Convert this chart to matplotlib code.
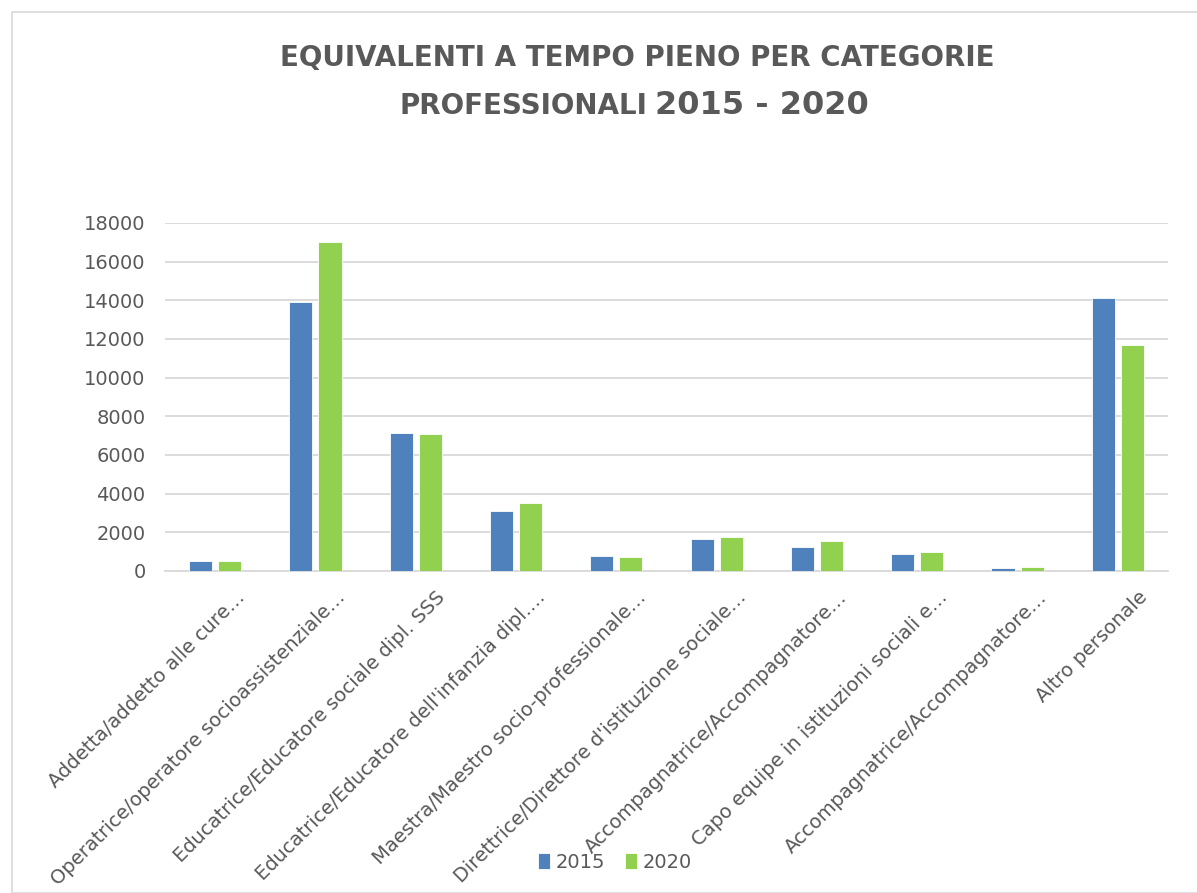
import matplotlib
matplotlib.use("Agg")
import matplotlib.pyplot as plt
import matplotlib.transforms as mtransforms
import numpy as np
from matplotlib.patches import Rectangle

categories = [
    "Addetta/addetto alle cure…",
    "Operatrice/operatore socioassistenziale…",
    "Educatrice/Educatore sociale dipl. SSS",
    "Educatrice/Educatore dell'infanzia dipl.…",
    "Maestra/Maestro socio-professionale…",
    "Direttrice/Direttore d'istituzione sociale…",
    "Accompagnatrice/Accompagnatore…",
    "Capo equipe in istituzioni sociali e…",
    "Accompagnatrice/Accompagnatore…",
    "Altro personale",
]
series_names = ["2015", "2020"]
values_2015 = [530, 13900, 7120, 3100, 780, 1640, 1230, 870, 170, 14100]
values_2020 = [520, 17000, 7090, 3510, 710, 1740, 1550, 980, 190, 11700]
yticks = [0, 2000, 4000, 6000, 8000, 10000, 12000, 14000, 16000, 18000]

c15 = "#4f81bd"
c20 = "#92d050"
txt = "#595959"

fig = plt.figure(figsize=(11.97, 8.93), dpi=100)
fig.patches.append(Rectangle((12/1197, 0), 1 - 12/1197 + 0.01, 1 - 12/893, transform=fig.transFigure,
                             fill=False, edgecolor="#d9d9d9", linewidth=1.2))

ax = fig.add_axes([165/1197, 1 - 571/893, (1168 - 165)/1197, (571 - 223)/893])
x = np.arange(len(categories))
w = 0.23
ax.bar(x - 0.145, values_2015, w, color=c15, edgecolor="white", linewidth=0.6, label=series_names[0], zorder=3)
ax.bar(x + 0.145, values_2020, w, color=c20, edgecolor="white", linewidth=0.6, label=series_names[1], zorder=3)

ax.set_xlim(-0.5, len(categories) - 0.5)
ax.set_ylim(0, 18000)
ax.set_yticks(yticks)
ax.set_yticklabels([str(v) for v in yticks], fontsize=14, color=txt)
ax.yaxis.grid(True, color="#d9d9d9", linewidth=1.3, zorder=0)
ax.set_axisbelow(True)
for s in ["top", "right", "left"]:
    ax.spines[s].set_visible(False)
ax.spines["bottom"].set_color("#d9d9d9")
ax.spines["bottom"].set_linewidth(1.3)
ax.tick_params(axis="y", length=0, pad=14)
ax.set_xticks(x)
ax.set_xticklabels(categories, rotation=45, ha="right", rotation_mode="anchor",
                   fontsize=14, color=txt)
ax.tick_params(axis="x", length=0, pad=12)
shift = mtransforms.ScaledTranslation(20/100, 0, fig.dpi_scale_trans)
for lbl in ax.get_xticklabels():
    lbl.set_transform(lbl.get_transform() + shift)

fig.text(637/1197, 1 - 58/893, "EQUIVALENTI A TEMPO PIENO PER CATEGORIE",
         ha="center", va="center", fontsize=20, fontweight="bold", color=txt)
fig.text(400/1197, 1 - 106/893, "PROFESSIONALI", ha="left", va="center",
         fontsize=20, fontweight="bold", color=txt)
fig.text(655/1197, 1 - 105/893, "2015 - 2020", ha="left", va="center",
         fontsize=23, fontweight="bold", color=txt)

leg = fig.legend(loc="center", bbox_to_anchor=(615/1197, 1 - 862/893), ncol=2, frameon=False,
                 fontsize=14, handlelength=0.6, handleheight=0.9, handletextpad=0.3,
                 columnspacing=1.0, labelcolor=txt)

fig.savefig("out.png", dpi=100)
